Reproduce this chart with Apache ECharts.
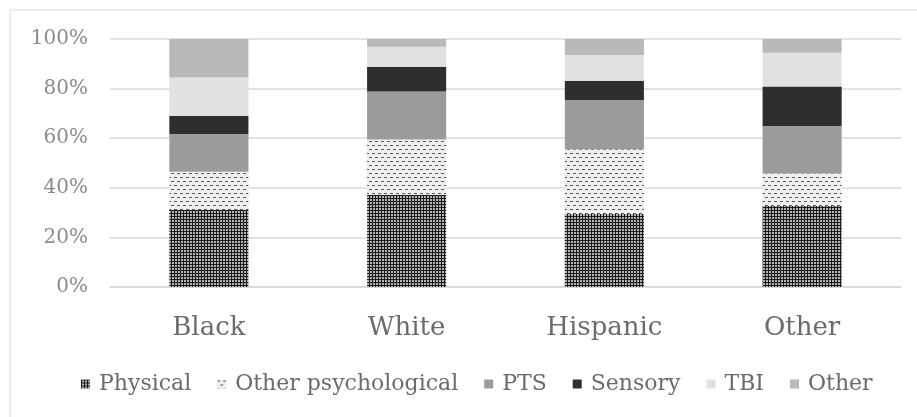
<!DOCTYPE html>
<html>
<head>
<meta charset="utf-8">
<script src="https://cdn.jsdelivr.net/npm/echarts@6/dist/echarts.min.js"></script>
<style>
html,body{margin:0;padding:0;background:#fff;}
#chart{width:917px;height:417px;}
</style>
</head>
<body>
<div id="chart"></div>
<script>
var categories = ['Black', 'White', 'Hispanic', 'Other'];
var seriesNames = ['Physical', 'Other psychological', 'PTS', 'Sensory', 'TBI', 'Other'];
var physical = [31.0, 37.1, 29.4, 32.7];
var otherPsych = [15.5, 22.4, 26.1, 13.1];
var pts = [15.2, 19.3, 19.9, 19.1];
var sensory = [7.4, 10.0, 7.8, 15.9];
var tbi = [15.4, 8.1, 10.3, 13.7];
var other = [15.5, 3.1, 6.5, 5.5];
var yTicks = [0, 20, 40, 60, 80, 100];

function makeGrid() {
  var c = document.createElement('canvas');
  c.width = 3; c.height = 3;
  var g = c.getContext('2d');
  g.fillStyle = '#b4b4b4'; g.fillRect(0, 0, 3, 3);
  g.fillStyle = '#1a1a1a';
  g.fillRect(0, 0, 3, 1);
  g.fillRect(0, 0, 1, 3);
  return c;
}
function makeDash() {
  var c = document.createElement('canvas');
  c.width = 6; c.height = 8;
  var g = c.getContext('2d');
  g.fillStyle = '#eeeeee'; g.fillRect(0, 0, 6, 8);
  g.fillStyle = '#5a5a5a';
  g.fillRect(0, 1, 3, 1);
  g.fillRect(3, 5, 3, 1);
  return c;
}
var colors = [
  {image: makeGrid(), repeat: 'repeat'},
  {image: makeDash(), repeat: 'repeat'},
  '#9b9b9b', '#2e2e2e', '#e1e1e1', '#b9b9b9'
];
var values = [physical, otherPsych, pts, sensory, tbi, other];

var font = '"DejaVu Serif", "Liberation Serif", serif';
var chart = echarts.init(document.getElementById('chart'));
chart.setOption({
  animation: false,
  backgroundColor: '#fff',
  graphic: [{
    type: 'rect', shape: {x: 10, y: 10, width: 920, height: 420},
    style: {fill: 'none', stroke: '#d9d9d9', lineWidth: 1}, silent: true, z: -1
  }],
  grid: {left: 110, right: 16, top: 39, bottom: 130},
  legend: {
    bottom: 17, left: 76, itemWidth: 9, itemHeight: 9, itemGap: 26,
    icon: 'rect',
    textStyle: {fontFamily: font, fontSize: 22, color: '#6b6b6b', padding: [0, 0, 0, 4]},
    data: seriesNames
  },
  xAxis: {
    type: 'category', data: categories,
    axisLine: {lineStyle: {color: '#d9d9d9', width: 1.5}},
    axisTick: {show: false},
    axisLabel: {fontFamily: font, fontSize: 26, color: '#6b6b6b', margin: 28}
  },
  yAxis: {
    type: 'value', min: yTicks[0], max: yTicks[yTicks.length - 1], interval: 20,
    axisLine: {show: false}, axisTick: {show: false},
    splitLine: {lineStyle: {color: '#d9d9d9', width: 1.5}},
    axisLabel: {fontFamily: font, fontSize: 20, color: '#8a8a8a', margin: 22,
      formatter: function (v) { return v + '%'; }}
  },
  series: seriesNames.map(function (n, i) {
    return {
      name: n, type: 'bar', stack: 'total', barWidth: '40%',
      data: values[i],
      itemStyle: {color: colors[i]}
    };
  })
});
</script>
</body>
</html>
